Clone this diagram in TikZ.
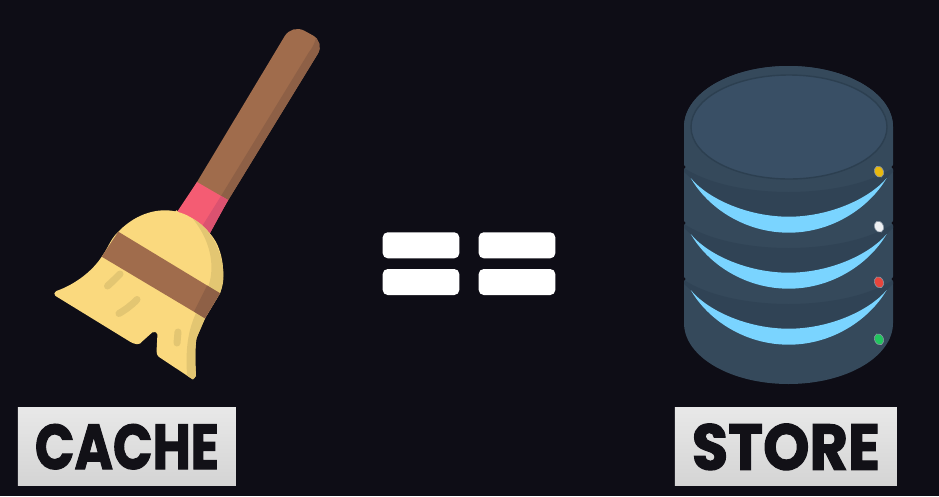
\documentclass[tikz,border=0pt]{standalone}
\usepackage{graphicx}
\usepackage{fontspec}
\setmainfont{Poppins}
\newfontfamily\labelfont[FakeBold=1.8]{Poppins Bold}
\definecolor{bgc}{HTML}{0E0D16}
\definecolor{wood}{HTML}{A06C4C}
\definecolor{woodd}{HTML}{8E6046}
\definecolor{redb}{HTML}{F45C73}
\definecolor{redd}{HTML}{DB5270}
\definecolor{straw}{HTML}{FAD97E}
\definecolor{strawd}{HTML}{E3C672}
\definecolor{dbtop}{HTML}{394F65}
\definecolor{dbring}{HTML}{2C3F50}
\definecolor{dbside}{HTML}{35495B}
\definecolor{dbdark}{HTML}{304355}
\definecolor{glow}{HTML}{7AD4FF}
\definecolor{ink}{HTML}{121117}
\definecolor{boxtop}{HTML}{E8E8E8}
\definecolor{boxbot}{HTML}{D4D4D4}
\definecolor{ledy}{HTML}{E8B90F}
\definecolor{ledw}{HTML}{EEF0F2}
\definecolor{ledr}{HTML}{E8453C}
\definecolor{ledg}{HTML}{22C55E}
\tikzset{
  bar/.style={fill=white,rounded corners=5pt,draw=none,minimum width=76.6pt,minimum height=26pt,inner sep=0pt},
  labelbox/.style={draw=none,top color=boxtop,bottom color=boxbot,inner sep=0pt,text=ink,anchor=north west},
  led/.style={draw=dbtop!60!white,line width=.6pt,fill=#1},
  stroke/.style={draw=strawd,line width=7pt,line cap=round},
}
\begin{document}
\begin{tikzpicture}[x=1pt,y=-1pt]
\useasboundingbox (0,0) rectangle (939,496);
\fill[bgc] (0,0) rectangle (939,496);

% broom handle (lower end is hidden under the ferrule)
\begin{scope}
  \clip[rounded corners=14pt] (185,202) -- (292,24) -- (325,42) -- (216,220) -- cycle;
  \fill[wood] (180,20) rectangle (330,225);
  \fill[woodd] (210,214) -- (309,52) .. controls (314,46) and (317,38) .. (318,25) -- (335,40) -- (225,225) -- cycle;
\end{scope}
\fill[redb] (197,182) -- (228,200) -- (210,233) -- (177,212) -- cycle;
\fill[redd] (221,196) -- (228,200) -- (210,233) -- (201,228) -- cycle;

% broom head
\fill[straw,rounded corners=1.5pt] (176.7,211.7)
  .. controls (160,208) and (138,212) .. (118.3,231.7)
  .. controls (110,240) and (108,248) .. (101.7,256.7)
  .. controls (92,271) and (76,284) .. (55,291.5)
  -- (54,295) -- (131.7,342.7)
  .. controls (136,344.5) and (139,344.5) .. (141,342.5)
  -- (153.3,331.5) -- (157.5,333)
  -- (156.5,352) -- (157.5,356)
  -- (193,379.5) -- (196,376)
  .. controls (195,360) and (195,348) .. (196.5,338)
  -- (205,318.3) -- (220,293.3)
  .. controls (224,280) and (225,262) .. (216.7,243.3)
  .. controls (210,231) and (194,216) .. cycle;
\fill[strawd] (193,219)
  .. controls (208,226) and (222,248) .. (223.3,272)
  .. controls (224,282) and (222,288) .. (220,293.3)
  -- (208,287)
  .. controls (214,272) and (214,245) .. cycle;
\fill[strawd] (196,313) -- (205,318.3) -- (196.5,338)
  .. controls (195,348) and (195,360) .. (196,376)
  -- (193,379.5) -- (187,375.5)
  .. controls (186,355) and (186,335) .. cycle;
\draw[stroke] (107.5,286) .. controls (112,282) and (116,278) .. (120,274);
\draw[stroke] (119,313.5) .. controls (125,310) and (132,305) .. (137,299.5);
\draw[stroke] (178,332) -- (177,343);
\fill[wood] (118.3,231.7) -- (220,293.3) -- (205,318.3) -- (101.7,256.7) -- cycle;
\fill[woodd] (207,285.5) -- (220,293.3) -- (205,318.3) -- (194,311.5) -- cycle;

% database body
\fill[dbside] (684,127) -- (684,323)
  .. controls (684,357) and (731,384) .. (788.5,384)
  .. controls (846,384) and (893,357) .. (893,323)
  -- (893,127)
  .. controls (893,93) and (846,66) .. (788.5,66)
  .. controls (731,66) and (684,93) .. (684,127) -- cycle;
\foreach \dy in {0,56,112}{
  \begin{scope}[shift={(0,\dy)}]
    \fill[dbdark] (684,168) .. controls (712,186) and (755,192) .. (788.5,192)
      .. controls (822,192) and (865,186) .. (893,168)
      -- (893,172) -- (886.7,178)
      .. controls (869,208) and (832,233) .. (788.5,233)
      .. controls (745,233) and (708,208) .. (690.7,178)
      -- (684,172) -- cycle;
    \fill[glow] (690.7,178)
      .. controls (708,208) and (745,232.7) .. (788.7,232.7)
      .. controls (832,232.7) and (869,208) .. (886.7,178)
      .. controls (869,199) and (829,216.7) .. (788.7,216.7)
      .. controls (748,216.7) and (708,199) .. cycle;
    \fill[bgc] (683,164) -- (685.5,167) -- (683,170) -- cycle;
    \fill[bgc] (894,164) -- (891.5,167) -- (894,170) -- cycle;
  \end{scope}
}
% top face
\fill[dbside] (684,127)
  .. controls (684,161) and (731,188) .. (788.5,188)
  .. controls (846,188) and (893,161) .. (893,127)
  .. controls (893,93) and (846,66) .. (788.5,66)
  .. controls (731,66) and (684,93) .. (684,127) -- cycle;
\draw[dbring,line width=1.4pt,fill=dbtop] (691,127)
  .. controls (691,156) and (735,179) .. (789,179)
  .. controls (843,179) and (887,156) .. (887,127)
  .. controls (887,98) and (843,75) .. (789,75)
  .. controls (735,75) and (691,98) .. (691,127) -- cycle;

% status lights
\path[led=ledy,shift={(879,171.7)},rotate=25] (0,0) ellipse[x radius=4.4,y radius=5.8];
\path[led=ledw,shift={(879,226.7)},rotate=25] (0,0) ellipse[x radius=4.4,y radius=5.8];
\path[led=ledr,shift={(879,282.3)},rotate=25] (0,0) ellipse[x radius=4.4,y radius=5.8];
\path[led=ledg,shift={(879,339.3)},rotate=25] (0,0) ellipse[x radius=4.4,y radius=5.8];

% equals bars
\node[bar] (b1) at (421,245.3) {};
\node[bar] (b2) at (517,245.3) {};
\node[bar] (b3) at (421,282) {};
\node[bar] (b4) at (517,282) {};

% labels
\node[labelbox,minimum width=218pt,minimum height=77.6pt] (cache) at (17.7,407.7)
  {\resizebox{184pt}{45pt}{\labelfont CACHE}};
\node[labelbox,minimum width=222pt,minimum height=78pt] (store) at (674.7,407.7)
  {\resizebox{188pt}{46pt}{\labelfont STORE}};
\end{tikzpicture}
\end{document}
